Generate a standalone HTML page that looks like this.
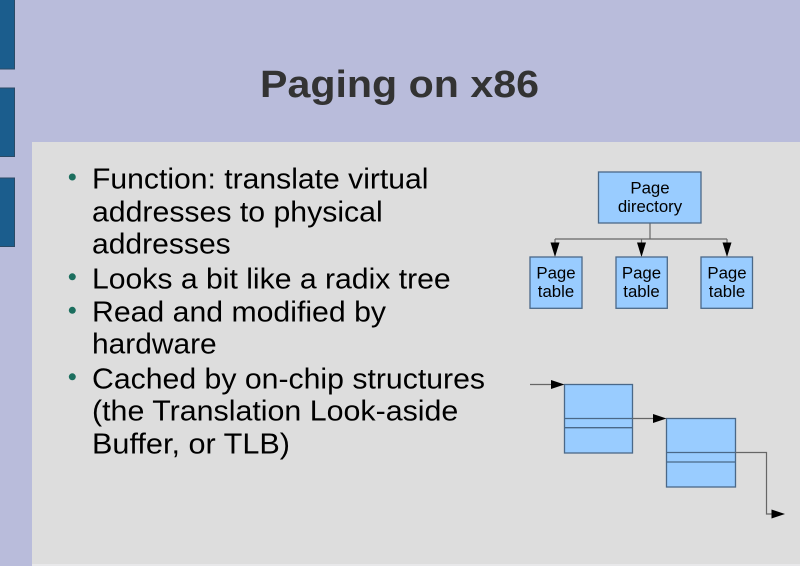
<!DOCTYPE html>
<html>
<head>
<meta charset="utf-8">
<style>
  html,body{margin:0;padding:0;background:#b9bcdb;}
  svg{display:block;}
  text{font-family:"Liberation Sans",Arial,sans-serif;}
</style>
</head>
<body>
<svg width="800" height="566" viewBox="0 0 800 566" xmlns="http://www.w3.org/2000/svg">
  <!-- background -->
  <rect x="0" y="0" width="800" height="566" fill="#b9bcdb"/>
  <!-- left bars -->
  <rect x="-1" y="-1" width="15.5" height="70" fill="#1b5d8d" stroke="#2b4a66" stroke-width="1"/>
  <rect x="-1" y="88" width="15.5" height="68.5" fill="#1b5d8d" stroke="#2b4a66" stroke-width="1"/>
  <rect x="-1" y="178" width="15.5" height="68.5" fill="#1b5d8d" stroke="#2b4a66" stroke-width="1"/>
  <!-- content panel -->
  <rect x="32" y="142" width="768" height="423" fill="#dddddd"/>
  <rect x="32" y="564" width="768" height="2" fill="#e8e8ea"/>

  <!-- title -->
  <text x="260" y="97" font-size="38" font-weight="bold" fill="#333333" textLength="279" lengthAdjust="spacingAndGlyphs">Paging on x86</text>

  <!-- bullets -->
  <g fill="#1b6e5e">
    <circle cx="72.3" cy="177" r="3.5"/>
    <circle cx="72.3" cy="276.8" r="3.5"/>
    <circle cx="72.3" cy="310.3" r="3.5"/>
    <circle cx="72.3" cy="376.8" r="3.5"/>
  </g>

  <!-- body text -->
  <g font-size="29" fill="#000000">
    <text x="92" y="188.3" textLength="336.5" lengthAdjust="spacingAndGlyphs">Function: translate virtual</text>
    <text x="92" y="221.5" textLength="290.7" lengthAdjust="spacingAndGlyphs">addresses to physical</text>
    <text x="92" y="253.3" textLength="138.7" lengthAdjust="spacingAndGlyphs">addresses</text>
    <text x="92" y="288.3" textLength="358.7" lengthAdjust="spacingAndGlyphs">Looks a bit like a radix tree</text>
    <text x="92" y="321.7" textLength="294" lengthAdjust="spacingAndGlyphs">Read and modified by</text>
    <text x="92" y="353.3" textLength="124.7" lengthAdjust="spacingAndGlyphs">hardware</text>
    <text x="92" y="388.3" textLength="393" lengthAdjust="spacingAndGlyphs">Cached by on-chip structures</text>
    <text x="92" y="420.5" textLength="366.3" lengthAdjust="spacingAndGlyphs">(the Translation Look-aside</text>
    <text x="92" y="453.3" textLength="198" lengthAdjust="spacingAndGlyphs">Buffer, or TLB)</text>
  </g>

  <!-- tree diagram -->
  <g stroke="#666666" stroke-width="1.2" fill="none">
    <line x1="650" y1="223" x2="650" y2="239"/>
    <line x1="555" y1="239" x2="727" y2="239"/>
    <line x1="555" y1="239" x2="555" y2="244"/>
    <line x1="641.5" y1="239" x2="641.5" y2="244"/>
    <line x1="727" y1="239" x2="727" y2="244"/>
  </g>
  <g fill="#000000">
    <polygon points="550.5,242.5 559.5,242.5 555,257"/>
    <polygon points="637,242.5 646,242.5 641.5,257"/>
    <polygon points="722.5,242.5 731.5,242.5 727,257"/>
  </g>
  <g fill="#99ccff" stroke="#4a6888" stroke-width="1.3">
    <rect x="598.5" y="172" width="102.5" height="51"/>
    <rect x="530" y="257" width="52" height="51.3"/>
    <rect x="616" y="257" width="51.3" height="51.3"/>
    <rect x="701" y="257" width="51.5" height="51.3"/>
  </g>
  <g font-size="16.5" fill="#000000" text-anchor="middle">
    <text x="650" y="193.5" textLength="39.3" lengthAdjust="spacingAndGlyphs">Page</text>
    <text x="650" y="212" textLength="64.3" lengthAdjust="spacingAndGlyphs">directory</text>
    <text x="556" y="278.5" textLength="39.3" lengthAdjust="spacingAndGlyphs">Page</text>
    <text x="556" y="297" textLength="36.4" lengthAdjust="spacingAndGlyphs">table</text>
    <text x="641.5" y="278.5" textLength="39.3" lengthAdjust="spacingAndGlyphs">Page</text>
    <text x="641.5" y="297" textLength="36.4" lengthAdjust="spacingAndGlyphs">table</text>
    <text x="727" y="278.5" textLength="39.3" lengthAdjust="spacingAndGlyphs">Page</text>
    <text x="727" y="297" textLength="36.4" lengthAdjust="spacingAndGlyphs">table</text>
  </g>

  <!-- TLB / linked boxes diagram -->
  <g fill="#99ccff" stroke="#4a6888" stroke-width="1.3">
    <rect x="564.5" y="384.5" width="68" height="68.5"/>
    <rect x="666.5" y="418.5" width="69" height="68.5"/>
  </g>
  <g stroke="#4a6888" stroke-width="1.3">
    <line x1="564.5" y1="418.5" x2="632.5" y2="418.5"/>
    <line x1="564.5" y1="427.7" x2="632.5" y2="427.7"/>
    <line x1="666.5" y1="452.5" x2="735.5" y2="452.5"/>
    <line x1="666.5" y1="462" x2="735.5" y2="462"/>
  </g>
  <g stroke="#666666" stroke-width="1.2" fill="none">
    <line x1="530" y1="384.5" x2="553" y2="384.5"/>
    <line x1="632.5" y1="418.5" x2="655" y2="418.5"/>
    <polyline points="735.5,452.5 766.5,452.5 766.5,514 773,514"/>
  </g>
  <g fill="#000000">
    <polygon points="551,380 551,389 564.5,384.5"/>
    <polygon points="653,414 653,423 666.5,418.5"/>
    <polygon points="771.5,509.5 771.5,518.5 785,514"/>
  </g>
</svg>
</body>
</html>
